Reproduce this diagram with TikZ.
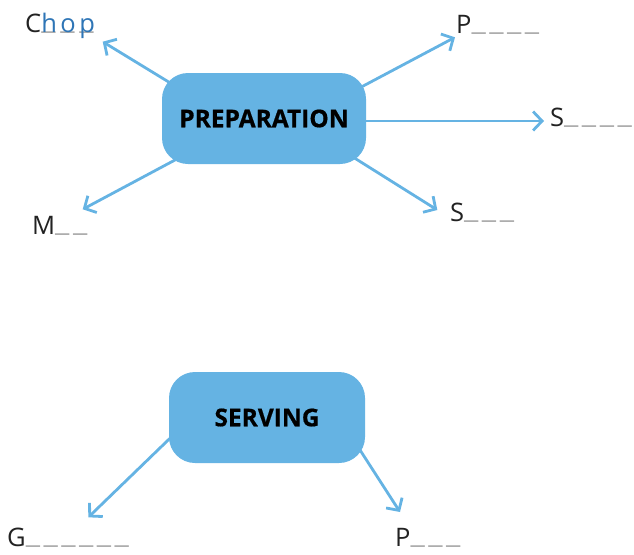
\documentclass[tikz,border=0pt]{standalone}
\usepackage{fontspec}
\setmainfont{Open Sans}
\newfontfamily\heavyfont{Open Sans}[BoldFeatures={FakeBold=0.6}]
\usetikzlibrary{arrows.meta,backgrounds}
\definecolor{boxblue}{HTML}{65B3E3}
\definecolor{fillblue}{HTML}{2E75B6}
\definecolor{blankgray}{HTML}{A6A6A6}
\definecolor{ink}{HTML}{222222}
\newcommand\undash{\raisebox{3pt}{\color{blankgray}\scalebox{1.25}[1]{\_}}}
\newcommand\blnk{\undash\kern3.5pt}
\newcommand\fillin[1]{\makebox[19pt][l]{\rlap{\undash}{\color{fillblue}#1}}}
\begin{document}
\begin{tikzpicture}[x=1pt,y=-1pt,
  topic/.style={fill=boxblue, rounded corners=26pt, minimum height=91pt, font=\fontsize{24.5}{28}\heavyfont\bfseries, text=black, inner sep=0pt},
  word/.style={anchor=base west, inner sep=0pt, font=\fontsize{25.5}{30}\selectfont, text=ink},
  link/.style={draw=boxblue, line width=2.8pt, -{Straight Barb[length=9pt,width=19pt]}}]
\useasboundingbox (0,0) rectangle (634,554);

\node[topic, minimum width=204pt] (prep) at (264,118.5) {PREPARATION};
\node[topic, minimum width=196pt] (serv) at (267,417.5) {SERVING};

\node[word] (chop) at (25,32.5) {C\fillin{h}\fillin{o}\fillin{p}};
\node[word] (p1) at (456,33.3) {P\blnk\blnk\blnk\undash};
\node[word] (s1) at (550,126.7) {S\blnk\blnk\blnk\undash};
\node[word] (s2) at (450,221.7) {S\blnk\blnk\undash};
\node[word] (m1) at (32,234) {M\blnk\undash};
\node[word] (g1) at (7,546) {G\blnk\blnk\blnk\blnk\blnk\undash};
\node[word] (p2) at (395,546) {P\blnk\blnk\undash};

\coordinate (a1s) at (178.5,88);   \coordinate (a1t) at (102.7,41.7);
\coordinate (a2s) at (353,91.4);   \coordinate (a2t) at (455,37.3);
\coordinate (a3s) at (356,121);    \coordinate (a3t) at (544,121);
\coordinate (a4s) at (346.5,153);  \coordinate (a4t) at (437.3,210);
\coordinate (a5s) at (183.8,155.3);\coordinate (a5t) at (82.7,209.3);
\coordinate (a6s) at (177.2,431.3);\coordinate (a6t) at (88.3,517.3);
\coordinate (a7s) at (354.6,441.6);\coordinate (a7t) at (400,512);

\begin{scope}[on background layer]
\draw[link] (a1s) -- (a1t);
\draw[link] (a2s) -- (a2t);
\draw[link] (a3s) -- (a3t);
\draw[link] (a4s) -- (a4t);
\draw[link] (a5s) -- (a5t);
\draw[link] (a6s) -- (a6t);
\draw[link] (a7s) -- (a7t);
\end{scope}
\end{tikzpicture}
\end{document}
